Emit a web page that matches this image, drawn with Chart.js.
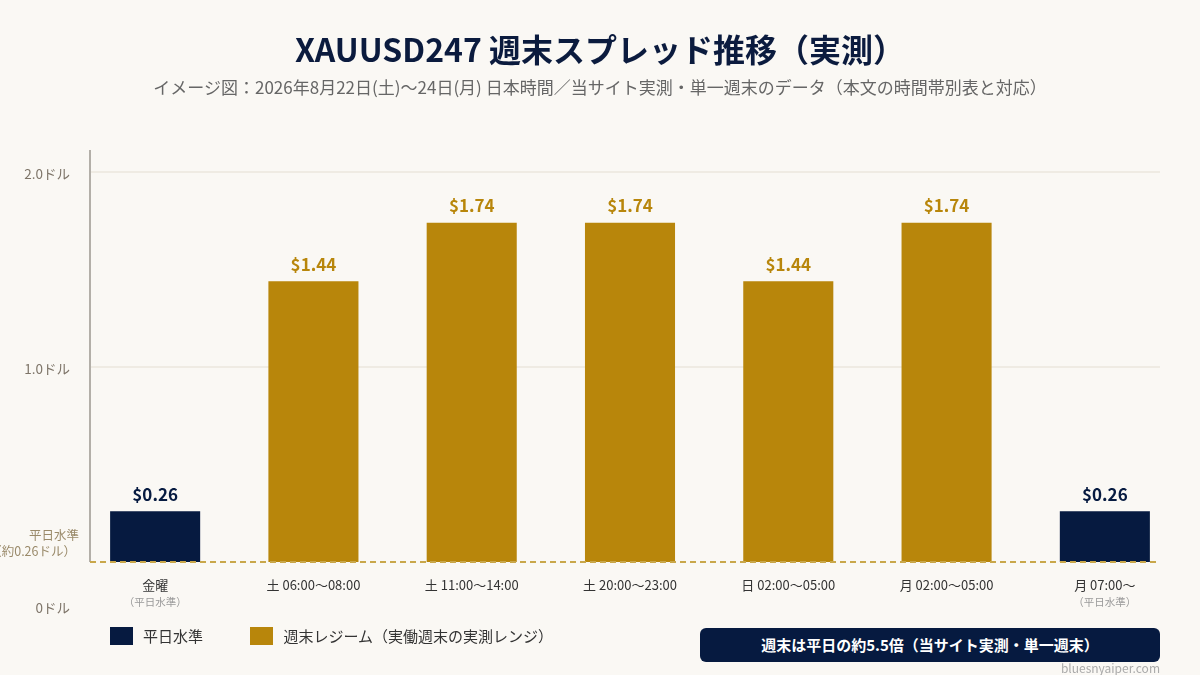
<!DOCTYPE html>
<html lang="ja">
<head>
<meta charset="utf-8">
<script src="https://cdn.jsdelivr.net/npm/chart.js@4"></script>
<style>
body{margin:0;background:#faf8f4;font-family:"Noto Sans CJK JP","Noto Sans",sans-serif;}
#wrap{position:relative;width:1200px;height:675px;overflow:hidden;}
#title{position:absolute;left:0;top:25px;width:1200px;text-align:center;font-size:32px;font-weight:700;color:#0b1b3e;}
#sub{position:absolute;left:0;top:74px;width:1200px;text-align:center;font-size:17px;color:#666;}
#legend{position:absolute;left:110px;top:625px;font-size:15px;color:#333;}
.lg{display:inline-flex;align-items:center;margin-right:18px;}
.sw{width:23px;height:18px;margin-right:10px;display:inline-block;}
#badge{position:absolute;left:700px;top:628px;width:460px;height:34px;border-radius:6px;background:#061a40;color:#fff;font-size:15px;font-weight:700;text-align:center;line-height:34px;}
#wm{position:absolute;right:40px;top:659px;font-size:12px;color:#aaa;}
canvas{position:absolute;left:0;top:0;}
</style>
</head>
<body>
<div id="wrap">
<canvas id="spreadChart" width="1200" height="675"></canvas>
<div id="title">XAUUSD247 週末スプレッド推移（実測）</div>
<div id="sub">イメージ図：2026年8月22日(土)〜24日(月) 日本時間／当サイト実測・単一週末のデータ（本文の時間帯別表と対応）</div>
<div id="legend">
<span class="lg"><span class="sw" style="background:#061a40"></span>平日水準</span>
<span class="lg" style="margin-left:26px"><span class="sw" style="background:#b8860b"></span>週末レジーム（実働週末の実測レンジ）</span>
</div>
<div id="badge">週末は平日の約5.5倍（当サイト実測・単一週末）</div>
<div id="wm">bluesnyaiper.com</div>
</div>
<script>
// XAUUSD247 週末スプレッド

let categories = ["金曜","土 06:00〜08:00","土 11:00〜14:00","土 20:00〜23:00","日 02:00〜05:00","月 02:00〜05:00","月 07:00〜"];

let subLabels = ["（平日水準）","","","","","","（平日水準）"];

let spreads = [0.26,1.44,1.74,1.74,1.44,1.74,0.26];

let isWeekday = [true,false,false,false,false,false,true];

let yTicks = [1,2];

let yTickLabels = ["1.0ドル","2.0ドル"];


const NAVY = "#061a40";
const GOLD = "#b8860b";
const FONT = '"Noto Sans CJK JP","Noto Sans",sans-serif';


let drawExtras = {

id:"drawExtras",

beforeDatasetsDraw(chart){

let ctx = chart.ctx;
let y = chart.scales.y;
let area = chart.chartArea;
let left = 90, right = 1160;

ctx.save();

// grid
ctx.strokeStyle = "#ebe7de";
ctx.lineWidth = 1.5;
yTicks.forEach(v=>{
let py = y.getPixelForValue(v);
ctx.beginPath();
ctx.moveTo(left,py);
ctx.lineTo(right,py);
ctx.stroke();
});

// axis line
ctx.strokeStyle = "#b3afa8";
ctx.lineWidth = 2;
ctx.beginPath();
ctx.moveTo(left,area.top);
ctx.lineTo(left,y.getPixelForValue(0));
ctx.stroke();

// tick labels
ctx.fillStyle = "#7d7468";
ctx.font = "13.5px " + FONT;
ctx.textAlign = "right";
ctx.textBaseline = "middle";
yTicks.forEach((v,i)=>{
ctx.fillText(yTickLabels[i],70,y.getPixelForValue(v)+2);
});
ctx.fillText("0ドル",70,y.getPixelForValue(0)+46);

ctx.fillStyle = "#9a8a6a";
ctx.font = "12.5px " + FONT;
ctx.fillText("平日水準",79,y.getPixelForValue(0)-27);
ctx.fillText("（約0.26ドル）",76,y.getPixelForValue(0)-11);

ctx.restore();

},

afterDatasetsDraw(chart){

let ctx = chart.ctx;
let y = chart.scales.y;
let x = chart.scales.x;
let meta = chart.getDatasetMeta(0);
let base = y.getPixelForValue(0);

ctx.save();

// baseline dashed
ctx.strokeStyle = "#c9a74a";
ctx.lineWidth = 2;
ctx.setLineDash([6,4]);
ctx.beginPath();
ctx.moveTo(90,base);
ctx.lineTo(1160,base);
ctx.stroke();
ctx.setLineDash([]);

// value labels
ctx.textAlign = "center";
ctx.textBaseline = "middle";
ctx.font = "bold 17px " + FONT;
meta.data.forEach((bar,i)=>{
ctx.fillStyle = isWeekday[i] ? NAVY : GOLD;
ctx.fillText("$" + spreads[i].toFixed(2), bar.x, bar.y-17);
});

// category labels
categories.forEach((c,i)=>{
let px = x.getPixelForValue(i);
ctx.fillStyle = "#333";
ctx.font = "13px " + FONT;
ctx.fillText(c,px,base+23);
if(subLabels[i]){
ctx.fillStyle = "#999";
ctx.font = "10.5px " + FONT;
ctx.fillText(subLabels[i],px,base+40);
}
});

ctx.restore();

}

};


let chart = new Chart(document.getElementById("spreadChart"), {

type:"bar",

data:{

labels:categories,

datasets:[{

data:spreads,

backgroundColor:isWeekday.map(w=>w ? NAVY : GOLD),

borderWidth:0,

categoryPercentage:1,

barPercentage:0.569

}]

},

options:{

responsive:false,

animation:false,

layout:{

padding:{left:76,right:16,top:150,bottom:113}

},

plugins:{

legend:{display:false},

tooltip:{enabled:false}

},

scales:{

x:{display:false},

y:{display:false,min:0,max:2.113}

}

},

plugins:[drawExtras]

});

</script>
</body>
</html>
